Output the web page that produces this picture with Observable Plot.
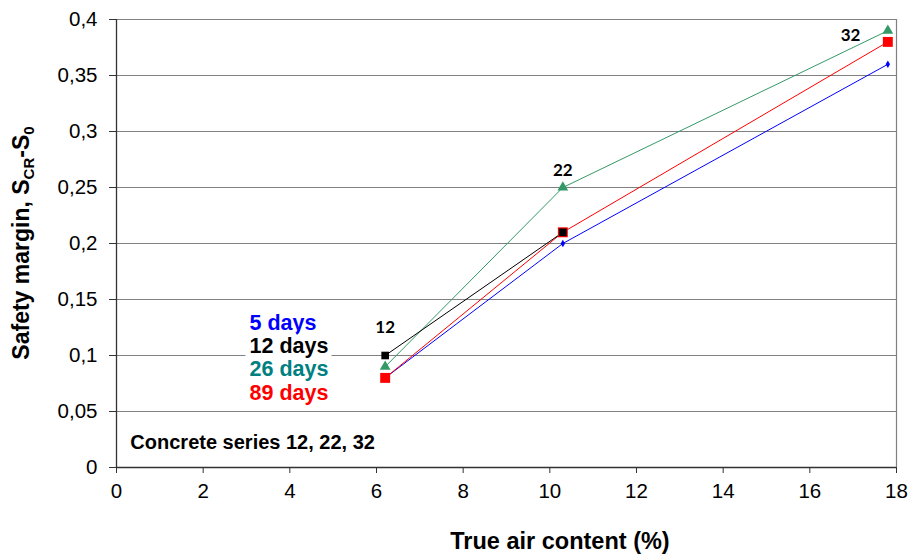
<!DOCTYPE html>
<html>
<head>
<meta charset="utf-8">
<script src="https://cdn.jsdelivr.net/npm/d3@7"></script>
<script src="https://cdn.jsdelivr.net/npm/@observablehq/plot@0.6"></script>
<style>
  html, body { margin: 0; padding: 0; background: #fff; }
  #chart { width: 911px; height: 558px; }
</style>
</head>
<body>
<div id="chart"></div>
<script>
// ---- data ----
const airContent = [6.2, 10.3, 17.8];
const seriesLabels = ["12", "22", "32"];
const days5 = [0.08, 0.20, 0.36];
const days12 = [0.10, 0.21];
const days26 = [0.09, 0.25, 0.39];
const days89 = [0.08, 0.21, 0.38];
const yTicks = [0, 0.05, 0.1, 0.15, 0.2, 0.25, 0.3, 0.35, 0.4];
const xTicks = [0, 2, 4, 6, 8, 10, 12, 14, 16, 18];
const legendNames = ["5 days", "12 days", "26 days", "89 days"];
const legendColors = ["#0000ff", "#000000", "#008080", "#ff0000"];
const legendY = [0.1286, 0.108, 0.0875, 0.066];
const labelPos = [{x: 6.2, y: 0.125}, {x: 10.3, y: 0.265}, {x: 16.94, y: 0.386}];

const toRows = (vals) => vals.map((v, i) => ({x: airContent[i], y: v}));
const s5 = toRows(days5), s12 = toRows(days12), s26 = toRows(days26), s89 = toRows(days89);
const legendRows = legendNames.map((n, i) => ({name: n, color: legendColors[i], y: legendY[i], x: 3.07}));
const annRows = seriesLabels.map((t, i) => ({t, ...labelPos[i]}));
const fmt = d => d === 0 ? "0" : d3.format(".2~f")(d).replace(".", ",");

const plot = Plot.plot({
  width: 911,
  height: 558,
  marginLeft: 116,
  marginRight: 15,
  marginTop: 19,
  marginBottom: 91,
  style: {fontFamily: "'Liberation Sans', Arial, sans-serif", background: "#fff"},
  x: {domain: [0, 18]},
  y: {domain: [0, 0.4]},
  marks: [
    Plot.ruleY(yTicks.filter(d => d > 0), {stroke: "#808080", strokeWidth: 1.2}),
    Plot.ruleX([18], {stroke: "#808080", strokeWidth: 1.2}),
    Plot.axisY({ticks: yTicks, tickFormat: fmt, tickSize: 7, tickPadding: 12, fontSize: 20.5, label: null, stroke: "#333"}),
    Plot.axisX({ticks: xTicks, tickFormat: d => String(d), tickSize: 6, tickPadding: 10, fontSize: 20.5, label: null, stroke: "#333"}),
    Plot.ruleX([0], {stroke: "#333", strokeWidth: 1.3}),
    Plot.ruleY([0], {stroke: "#333", strokeWidth: 1.3}),
    // legend text (with white backdrop for 12 days)
    Plot.text(legendRows, {x: "x", y: "y", text: "name", fill: "color", textAnchor: "start",
      fontSize: 21.5, fontWeight: "bold", stroke: d => d.name === "12 days" ? "white" : "none", strokeWidth: 12, paintOrder: "stroke"}),
    // lines
    Plot.line(s5, {x: "x", y: "y", stroke: "#0000ff", strokeWidth: 1}),
    Plot.line(s26, {x: "x", y: "y", stroke: "#339966", strokeWidth: 1}),
    Plot.line(s89, {x: "x", y: "y", stroke: "#ff0000", strokeWidth: 1}),
    Plot.line(s12, {x: "x", y: "y", stroke: "#000000", strokeWidth: 1}),
    // markers
    Plot.dot(s5, {x: "x", y: "y", symbol: "diamond", r: 2.3, fill: "#0000ff"}),
    Plot.dot(s26, {x: "x", y: "y", symbol: "triangle", r: 4, fill: "#339966"}),
    Plot.dot(s89, {x: "x", y: "y", symbol: "square", r: 5.6, fill: "#ff0000"}),
    Plot.dot(s12, {x: "x", y: "y", symbol: "square", r: 4.3, fill: "#000000"}),
    // annotations
    Plot.text(annRows, {x: "x", y: "y", text: "t", fontSize: 17, fontWeight: "bold", fill: "#000",
      fontFamily: "Lato, 'Open Sans', sans-serif"}),
    Plot.text(["Concrete series 12, 22, 32"], {x: 0.32, y: 0.022, text: d => d, textAnchor: "start",
      fontSize: 20, fontWeight: "bold", fill: "#000"})
  ]
});

const svg = d3.select(plot);
svg.append("text")
  .attr("x", 560).attr("y", 549)
  .attr("text-anchor", "middle")
  .attr("font-size", 23.5).attr("font-weight", "bold")
  .attr("font-family", "'Liberation Sans', Arial, sans-serif")
  .attr("fill", "#000")
  .text("True air content (%)");

const yl = svg.append("text")
  .attr("transform", "translate(29,243) rotate(-90)")
  .attr("text-anchor", "middle")
  .attr("font-size", 23).attr("font-weight", "bold")
  .attr("font-family", "'Liberation Sans', Arial, sans-serif")
  .attr("fill", "#000");
yl.append("tspan").text("Safety margin, S");
yl.append("tspan").attr("font-size", 15).attr("dy", 5).text("CR");
yl.append("tspan").attr("dy", -5).text("-S");
yl.append("tspan").attr("font-size", 15).attr("dy", 5).text("0");

document.getElementById("chart").appendChild(plot);
</script>
</body>
</html>
